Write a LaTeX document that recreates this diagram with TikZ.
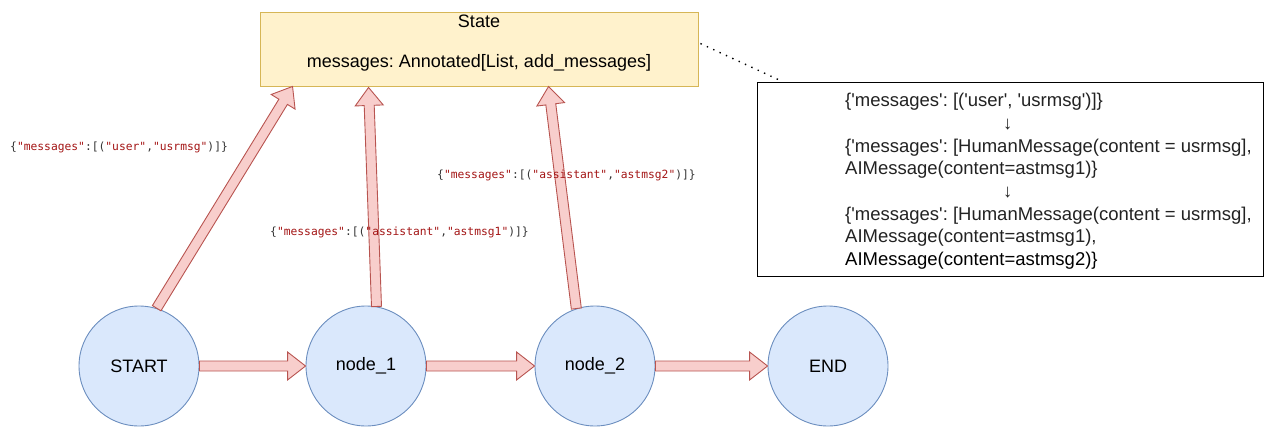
\documentclass[tikz,border=0pt]{standalone}
\usepackage{fontspec}
\newfontfamily\arialf{Liberation Sans}
\newfontfamily\monof{DejaVu Sans Mono}
\usetikzlibrary{calc}
\frenchspacing
\definecolor{circfill}{HTML}{DAE8FC}
\definecolor{circdraw}{HTML}{6C8EBF}
\definecolor{arrfill}{HTML}{F8CECC}
\definecolor{arrdraw}{HTML}{B85450}
\definecolor{statefill}{HTML}{FFF2CC}
\definecolor{statedraw}{HTML}{D6B656}
\definecolor{codestr}{HTML}{A31515}
\definecolor{codepun}{HTML}{333333}
\definecolor{boxtxt}{HTML}{222222}
\newcommand\cstr[1]{\textcolor{codestr}{#1}}
\newcommand\blockarrow[2]{%
  \coordinate (hb) at ($(#2)!18pt!(#1)$);
  \draw[barrow] ($(#1)!5pt!90:(#2)$) -- ($(hb)!5pt!90:(#2)$) -- ($(hb)!14pt!90:(#2)$) -- (#2)
    -- ($(hb)!14pt!-90:(#2)$) -- ($(hb)!5pt!-90:(#2)$) -- ($(#1)!5pt!-90:(#2)$) -- cycle;
}
\begin{document}
\frenchspacing
\begin{tikzpicture}[x=1pt,y=-1pt,
  circnode/.style={circle, draw=circdraw, fill=circfill, line width=0.9pt, minimum size=120pt, inner sep=0pt,
    font=\arialf\fontsize{18}{21}\selectfont},
  barrow/.style={draw=arrdraw, fill=arrfill, line width=0.9pt, line join=miter},
  statebox/.style={draw=statedraw, fill=statefill, line width=0.9pt, minimum width=438pt, minimum height=74pt, inner sep=0pt},
  statetext/.style={anchor=base, inner sep=0pt, font=\arialf\fontsize{18}{21}\selectfont},
  codelabel/.style={anchor=west, inner sep=0pt, text=codepun, font=\monof\fontsize{11.3}{13}\selectfont},
  notebox/.style={draw=black, line width=0.9pt, minimum width=506pt, minimum height=194pt, inner sep=0pt},
  notetext/.style={anchor=north west, align=left, inner sep=0pt, text=boxtxt, font=\arialf\fontsize{18.5}{22.7}\selectfont},
  dotline/.style={line width=1.4pt, dash pattern=on 1.4pt off 5.6pt, line cap=butt}
]
\useasboundingbox (0,0) rectangle (1269,436);

% state box
\node[statebox] (state) at (479,49) {};
\node[statetext] (statetitle) at (479,28) {State};
\node[statetext] (statebody) at (479,68) {messages: Annotated[List, add\_messages]};

% graph nodes
\node[circnode] (start) at (139,366) {START};
\node[circnode] (n1) at (366,366) {node\_1};
\node[circnode] (n2) at (595,366) {node\_2};
\node[circnode] (end) at (828,366) {END};

% note box
\node[notebox] (box) at (1010,179) {};
\node[notetext] (boxtext) at (845,93) {%
\{'messages': [('user', 'usrmsg')]\}\\
\hspace*{158pt}↓\\
\{'messages': [HumanMessage(content = usrmsg],\\
AIMessage(content=astmsg1)\}\\
\hspace*{158pt}↓\\
\{'messages': [HumanMessage(content = usrmsg],\\
AIMessage(content=astmsg1),\\
\textcolor{black}{AIMessage(content=astmsg2)\}}};

\draw[dotline] ($(state.north east)+(2,32)$) -- ($(box.north west)+(26,0)$);

% arrows
\blockarrow{start.east}{n1.west}
\blockarrow{n1.east}{n2.west}
\blockarrow{n2.east}{end.west}
\blockarrow{start.73}{$(state.south west)+(33,0)$}
\blockarrow{n1.80}{$(state.south west)+(109,1)$}
\blockarrow{n2.108}{$(state.south west)+(289,0)$}

% labels
\node[codelabel] (lab1) at (10,147) {\{\cstr{"messages"}:[(\cstr{"user"},\cstr{"usrmsg"})]\}};
\node[codelabel] (lab2) at (270,232) {\{\cstr{"messages"}:[(\cstr{"assistant"},\cstr{"astmsg1"})]\}};
\node[codelabel] (lab3) at (437,175) {\{\cstr{"messages"}:[(\cstr{"assistant"},\cstr{"astmsg2"})]\}};
\end{tikzpicture}
\end{document}
